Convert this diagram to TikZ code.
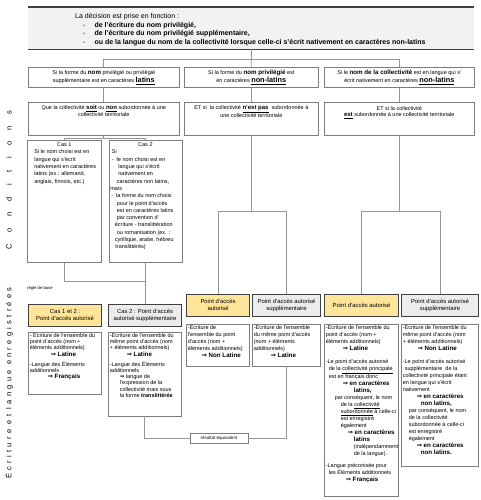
\documentclass[tikz,border=0pt]{standalone}
\usepackage{fontspec}
\setmainfont{Liberation Sans}
\newfontfamily\arrowfont{DejaVu Sans}
\newfontfamily\condfont[LetterSpace=153]{Liberation Sans}
\newfontfamily\ecrfont[LetterSpace=44]{Liberation Sans}
\usetikzlibrary{positioning,calc}

\definecolor{conngray}{RGB}{150,150,150}
\definecolor{boxgray}{RGB}{125,125,125}
\definecolor{headgray}{RGB}{64,64,64}
\definecolor{goldfill}{RGB}{255,229,153}
\definecolor{greyfill}{RGB}{236,236,236}
\definecolor{topfill}{RGB}{242,242,242}

% text block of fixed size, top aligned
\newcommand{\cell}[3]{\parbox[t][#2pt][t]{#1pt}{\rightskip=0pt plus 1fil minus 30pt\relax #3}}
\newcommand{\flushl}{\leftskip=0pt\rightskip=0pt plus 1fil minus 30pt\relax}
\newcommand{\imp}{{\arrowfont\bfseries ⇒}}
\newcommand{\bb}[1]{{\fontsize{6.2}{7}\selectfont\bfseries #1}}
\newcommand{\ub}[1]{{\fontsize{6}{6.5}\selectfont\bfseries\underline{#1}}}
\newcommand{\kw}[1]{{\fontsize{7.3}{8}\selectfont\bfseries\underline{#1}}}

\begin{document}
\begin{tikzpicture}[x=1pt,y=-1pt,
  conn/.style={draw=conngray,line width=0.8pt},
  wbox/.style={draw=boxgray,fill=white,line width=0.6pt,inner sep=1.5pt,anchor=north west,
    font=\fontsize{5.5}{7}\selectfont},
  hbox/.style={draw=headgray,line width=1.1pt,inner sep=1pt,minimum height=21.5pt,
    anchor=north west,align=center,font=\fontsize{5.9}{7}\selectfont},
  ybox/.style={hbox,fill=goldfill},
  gbox/.style={hbox,fill=greyfill}]
\useasboundingbox (0,0) rectangle (480,500);

% decision
\node[fill=topfill,inner sep=0pt,anchor=north west,font=\fontsize{7}{8.5}\selectfont] (top) at (28,7)
  {\cell{446}{42}{\vspace*{6.5pt}%
  \hspace*{47pt}La décision est prise en fonction :\\
  \hspace*{55pt}-\hspace{9pt}\textbf{de l'écriture du nom privilégié,}\\
  \hspace*{55pt}-\hspace{9pt}\textbf{de l'écriture du nom privilégié supplémentaire,}\\
  \hspace*{55pt}-\hspace{9pt}\textbf{ou de la langue du nom de la collectivité lorsque celle-ci s'écrit nativement en caractères non-latins}}};
\draw[headgray,line width=1.3pt] (top.north west) -- (top.north east) (top.south west) -- (top.south east);

% conditions
\node[wbox,minimum width=151pt,minimum height=20pt,align=center] (r2a) at (28,67)
  {Si la forme du \bb{nom} privilégié ou privilégié\\[1pt] supplémentaire est en caractères \kw{latins}};
\node[wbox,minimum width=134pt,minimum height=20pt,align=center] (r2b) at (184,67)
  {Si la forme du \bb{nom privilégié} est\\[1pt] en caractères \kw{non-latins}};
\node[wbox,minimum width=150pt,minimum height=20pt,align=center] (r2c) at (324,67)
  {Si le \bb{nom de la collectivité} est en langue qui s'\\[1pt] écrit nativement en caractères \kw{non-latins}};

\node[wbox,below=14pt of r2a.south west,anchor=north west,font=\fontsize{5.5}{6.5}\selectfont] (r3a)
  {\cell{148}{30}{\centering\vspace*{2pt}Que la collectivité \ub{soit} ou \ub{non} subordonnée à une\\ collectivité territoriale}};
\node[wbox,below=14pt of r2b.south west,anchor=north west,font=\fontsize{5.5}{6.5}\selectfont] (r3b)
  {\cell{131}{30}{\centering\vspace*{2pt}ET si\ \ la collectivité \ub{n'est pas}\ \ subordonnée à\\ une collectivité territoriale}};
\node[wbox,below=14pt of r2c.south west,anchor=north west,font=\fontsize{5.5}{6.5}\selectfont] (r3c)
  {\cell{147}{30}{\centering\vspace*{3pt}ET si la collectivité\\ \ub{est} subordonnée à une collectivité territoriale}};

\node[wbox,font=\fontsize{5.5}{7.3}\selectfont] (cas1) at (27,140)
  {\cell{71}{119}{\vspace*{1pt}\centering Cas 1\par\flushl\leftskip=5.5pt
   Si le nom choisi est en\\ langue qui s'écrit\\ nativement en caractères\\
   latins (ex.: allemand,\\ anglais, finnois, etc.)}};
\node[wbox,font=\fontsize{5.5}{7.3}\selectfont,right=7pt of cas1.north east,anchor=north west] (cas2)
  {\cell{70}{119}{\vspace*{1pt}\centering Cas 2\par\flushl
   \hspace*{1.5pt}Si\\
   \hspace*{1.5pt}-\hspace{3pt}le nom choisi est en\\
   \hspace*{8pt}langue qui s'écrit\\
   \hspace*{8pt}nativement en\\
   \hspace*{6.5pt}caractères non latins,\\
   mais\\
   \hspace*{1pt}-\hspace{3pt}la forme du nom choisi\\
   \hspace*{6.5pt}pour le point d'accès\\
   \hspace*{6.5pt}est en caractères latins\\
   \hspace*{6.5pt}par convention d'\\
   \hspace*{4.5pt}écriture - translittération\\
   \hspace*{6.5pt}ou romanisation (ex. :\\
   \hspace*{4.5pt}cyrillique, arabe, hébreu\\
   \hspace*{5pt}translittérés)}};

\node[rotate=90,inner sep=0pt,font=\fontsize{7.5}{8}\condfont] (lcond) at (9,180) {Conditions};
\node[rotate=90,inner sep=0pt,font=\fontsize{7.5}{8}\ecrfont] (lecr) at (9,383) {Écriture et langue enregistrées};

% points d'acces
\node[anchor=west,inner sep=0pt,font=\fontsize{4.2}{5}\selectfont] (base) at (27,288) {règle de base};
\node[ybox,minimum width=73pt] (y1) at (28,304) {Cas 1 et 2 :\\ Point d'accès autorisé};
\node[gbox,minimum width=73pt] (g1) at (108,304) {Cas 2 : Point d'accès\\ autorisé supplémentaire};
\node[ybox,minimum width=63pt] (y2) at (186,294) {Point d'accès\\ autorisé};
\node[gbox,minimum width=68pt] (g2) at (252,294) {Point d'accès autorisé\\ supplémentaire};
\node[ybox,minimum width=74pt] (y3) at (324,294) {Point d'accès autorisé};
\node[gbox,minimum width=77pt] (g3) at (401,294) {Point d'accès autorisé\\ supplémentaire};

\node[wbox,below=5pt of y1.south west,anchor=north west,font=\fontsize{5.5}{6.3}\selectfont] (w1a)
  {\cell{70}{59}{%
  - Ecriture de l'ensemble du\\
  point d'accès (nom +\\
  éléments additionnels)\\
  \hspace*{21pt}\bb{\imp\ Latine}\\[3.5pt]
  -Langue des Éléments\\
  additionnels\\
  \hspace*{18pt}\bb{\imp\ Français}}};
\node[wbox,below=5pt of g1.south west,anchor=north west,font=\fontsize{5.5}{6.3}\selectfont] (w1b)
  {\cell{70}{81}{%
  -Ecriture de l'ensemble du\\
  même point d'accès (nom\\
  + éléments additionnels)\\
  \hspace*{17pt}\bb{\imp\ Latine}\\[3.5pt]
  -Langue des Éléments\\
  additionnels\\
  \hspace*{10pt}\imp\ langue de\\
  \hspace*{10pt}l'expression de la\\
  \hspace*{10pt}collectivité mais sous\\
  \hspace*{10pt}la forme \textbf{translittérée}}};
\node[wbox,below=7pt of y2.south west,anchor=north west] (w2a)
  {\cell{60}{39}{%
  -Ecriture de\\
  l'ensemble du point\\
  d'accès (nom +\\
  éléments additionnels)\\
  \hspace*{14pt}\bb{\imp\ Non Latine}}};
\node[wbox,below=7pt of g2.south west,anchor=north west] (w2b)
  {\cell{65}{39}{%
  -Ecriture de l'ensemble\\
  du même point d'accès\\
  (nom + éléments\\
  additionnels)\\
  \hspace*{17pt}\bb{\imp\ Latine}}};
\node[wbox,below=7pt of y3.south west,anchor=north west] (w3a)
  {\cell{71}{169}{%
  -Ecriture de l'ensemble du\\
  point d'accès (nom +\\
  éléments additionnels)\\
  \hspace*{17pt}\bb{\imp\ Latine}\\[6pt]
  -Le point d'accès autorisé\\
  \hspace*{3pt}de la \underline{collectivité principale}\\
  \hspace*{3pt}est en français donc\\
  \hspace*{17pt}\bb{\imp\ en caractères}\\
  \hspace*{28pt}\bb{latins,}\\
  \hspace*{9pt}par conséquent, le nom\\
  \hspace*{15pt}de la \underline{collectivité}\\
  \hspace*{15pt}\underline{subordonnée} à celle-ci\\
  \hspace*{15pt}est enregistré\\
  \hspace*{15pt}également\\
  \hspace*{22pt}\bb{\imp\ en caractères}\\
  \hspace*{28pt}\bb{latins}\\
  \hspace*{28pt}(indépendamment\\
  \hspace*{28pt}de la langue).\\[5pt]
  -Langue préconisée pour\\
  \hspace*{3pt}les Éléments additionnels\\
  \hspace*{20pt}\bb{\imp\ Français}}};
\node[wbox,below=7pt of g3.south west,anchor=north west] (w3b)
  {\cell{74}{139}{%
  -Ecriture de l'ensemble du\\
  même point d'accès (nom\\
  + éléments additionnels)\\
  \hspace*{15pt}\bb{\imp\ Non Latine}\\[6pt]
  -Le point d'accès autorisé\\
  \hspace*{2pt}supplémentaire\ \ de la\\
  collectivité principale étant\\
  en langue qui s'écrit\\
  nativement\\
  \hspace*{14pt}\bb{\imp\ en caractères}\\
  \hspace*{18pt}\bb{non latins,}\\
  \hspace*{6pt}par conséquent, le nom\\
  \hspace*{6pt}de la collectivité\\
  \hspace*{6pt}subordonnée à celle-ci\\
  \hspace*{6pt}est enregistré\\
  \hspace*{6pt}également\\
  \hspace*{14pt}\bb{\imp\ en caractères}\\
  \hspace*{18pt}\bb{non latins.}}};

\node[draw=boxgray,line width=0.6pt,fill=white,minimum width=58pt,minimum height=10pt,inner sep=0.5pt,
  font=\fontsize{4.5}{5}\selectfont] (res) at (219,438.5) {résultat équivalent};

% connectors
\draw[conn] (top.south) -- ++(0,10) coordinate (j0);
\draw[conn] (r2a.north) |- (j0) -| (r2c.north);
\draw[conn] (j0) -- (r2b.north);
\foreach \c in {a,b,c}
  \draw[conn] (r2\c.south) -- (r3\c.north);
\draw[conn] (r3a.south) -- ++(0,3) coordinate (j1);
\draw[conn] (cas1.north) |- (j1) -| (cas2.north);
\draw[conn] (cas2.south) -- (cas2.south |- g1.north);
\draw[conn] (cas1.south) |- ($(cas2.south)+(0,19)$);
\draw[conn] (r3b.south) -- ++(0,76) coordinate (j2);
\draw[conn] (y2.north) |- (j2) -| (g2.north);
\draw[conn] (r3c.south) -- ++(0,76) coordinate (j3);
\draw[conn] (y3.north) |- (j3) -| (g3.north);
\draw[conn] (w1b.south) |- (res.west);
\draw[conn] (w2b.south) |- (res.east);
\end{tikzpicture}
\end{document}
